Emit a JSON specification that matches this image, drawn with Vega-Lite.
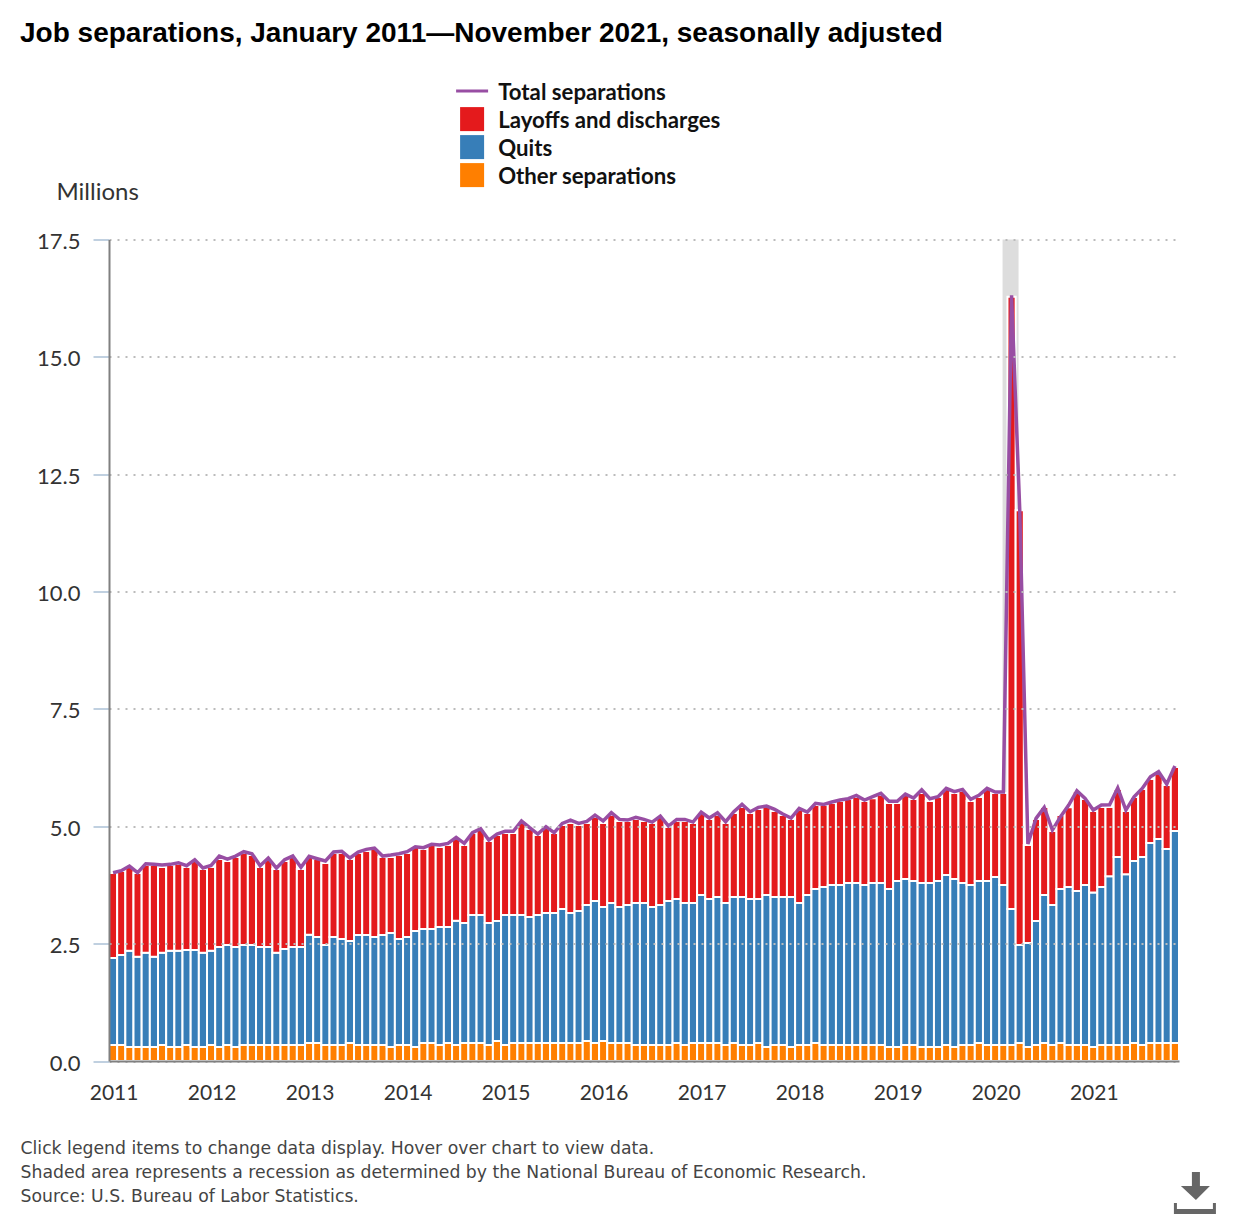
{
  "$schema": "https://vega.github.io/schema/vega-lite/v6.json",
  "autosize": {"type": "none"},
  "padding": {"left": 109, "top": 239.5, "right": 61, "bottom": 158.5},
  "width": 1070,
  "height": 821.5,
  "background": "white",
  "title": {
    "text": "Job separations, January 2011—November 2021, seasonally adjusted",
    "anchor": "start",
    "frame": "group",
    "dx": -89,
    "offset": 18,
    "baseline": "middle",
    "font": "Liberation Sans",
    "fontSize": 28,
    "fontWeight": "bold",
    "color": "#000000"
  },
  "config": {"view": {"stroke": null}},
  "data": {
    "values": [
      {"month":"2011-01","Other separations":0.341,"Quits":1.853,"Layoffs and discharges":1.811,"Total separations":4.011},
      {"month":"2011-02","Other separations":0.341,"Quits":1.917,"Layoffs and discharges":1.789,"Total separations":4.054},
      {"month":"2011-03","Other separations":0.298,"Quits":2.052,"Layoffs and discharges":1.782,"Total separations":4.153},
      {"month":"2011-04","Other separations":0.298,"Quits":1.924,"Layoffs and discharges":1.782,"Total separations":4.011},
      {"month":"2011-05","Other separations":0.298,"Quits":2.009,"Layoffs and discharges":1.867,"Total separations":4.203},
      {"month":"2011-06","Other separations":0.298,"Quits":1.924,"Layoffs and discharges":1.953,"Total separations":4.189},
      {"month":"2011-07","Other separations":0.341,"Quits":1.967,"Layoffs and discharges":1.825,"Total separations":4.174},
      {"month":"2011-08","Other separations":0.298,"Quits":2.052,"Layoffs and discharges":1.825,"Total separations":4.189},
      {"month":"2011-09","Other separations":0.298,"Quits":2.052,"Layoffs and discharges":1.846,"Total separations":4.224},
      {"month":"2011-10","Other separations":0.341,"Quits":2.024,"Layoffs and discharges":1.768,"Total separations":4.160},
      {"month":"2011-11","Other separations":0.298,"Quits":2.066,"Layoffs and discharges":1.896,"Total separations":4.288},
      {"month":"2011-12","Other separations":0.298,"Quits":2.009,"Layoffs and discharges":1.782,"Total separations":4.111},
      {"month":"2012-01","Other separations":0.341,"Quits":2.009,"Layoffs and discharges":1.782,"Total separations":4.167},
      {"month":"2012-02","Other separations":0.298,"Quits":2.130,"Layoffs and discharges":1.874,"Total separations":4.366},
      {"month":"2012-03","Other separations":0.341,"Quits":2.130,"Layoffs and discharges":1.789,"Total separations":4.302},
      {"month":"2012-04","Other separations":0.298,"Quits":2.130,"Layoffs and discharges":1.917,"Total separations":4.366},
      {"month":"2012-05","Other separations":0.341,"Quits":2.130,"Layoffs and discharges":1.960,"Total separations":4.458},
      {"month":"2012-06","Other separations":0.341,"Quits":2.130,"Layoffs and discharges":1.917,"Total separations":4.416},
      {"month":"2012-07","Other separations":0.341,"Quits":2.087,"Layoffs and discharges":1.704,"Total separations":4.160},
      {"month":"2012-08","Other separations":0.341,"Quits":2.087,"Layoffs and discharges":1.874,"Total separations":4.324},
      {"month":"2012-09","Other separations":0.341,"Quits":1.967,"Layoffs and discharges":1.782,"Total separations":4.111},
      {"month":"2012-10","Other separations":0.341,"Quits":2.045,"Layoffs and discharges":1.874,"Total separations":4.288},
      {"month":"2012-11","Other separations":0.341,"Quits":2.087,"Layoffs and discharges":1.917,"Total separations":4.366},
      {"month":"2012-12","Other separations":0.341,"Quits":2.087,"Layoffs and discharges":1.661,"Total separations":4.125},
      {"month":"2013-01","Other separations":0.383,"Quits":2.308,"Layoffs and discharges":1.654,"Total separations":4.359},
      {"month":"2013-02","Other separations":0.383,"Quits":2.258,"Layoffs and discharges":1.661,"Total separations":4.309},
      {"month":"2013-03","Other separations":0.341,"Quits":2.130,"Layoffs and discharges":1.747,"Total separations":4.260},
      {"month":"2013-04","Other separations":0.341,"Quits":2.300,"Layoffs and discharges":1.789,"Total separations":4.451},
      {"month":"2013-05","Other separations":0.341,"Quits":2.258,"Layoffs and discharges":1.832,"Total separations":4.466},
      {"month":"2013-06","Other separations":0.383,"Quits":2.173,"Layoffs and discharges":1.747,"Total separations":4.324},
      {"month":"2013-07","Other separations":0.341,"Quits":2.343,"Layoffs and discharges":1.747,"Total separations":4.451},
      {"month":"2013-08","Other separations":0.341,"Quits":2.343,"Layoffs and discharges":1.789,"Total separations":4.508},
      {"month":"2013-09","Other separations":0.341,"Quits":2.300,"Layoffs and discharges":1.874,"Total separations":4.537},
      {"month":"2013-10","Other separations":0.341,"Quits":2.343,"Layoffs and discharges":1.661,"Total separations":4.366},
      {"month":"2013-11","Other separations":0.298,"Quits":2.428,"Layoffs and discharges":1.619,"Total separations":4.387},
      {"month":"2013-12","Other separations":0.341,"Quits":2.258,"Layoffs and discharges":1.789,"Total separations":4.416},
      {"month":"2014-01","Other separations":0.341,"Quits":2.300,"Layoffs and discharges":1.789,"Total separations":4.458},
      {"month":"2014-02","Other separations":0.298,"Quits":2.471,"Layoffs and discharges":1.789,"Total separations":4.565},
      {"month":"2014-03","Other separations":0.383,"Quits":2.428,"Layoffs and discharges":1.704,"Total separations":4.544},
      {"month":"2014-04","Other separations":0.383,"Quits":2.428,"Layoffs and discharges":1.789,"Total separations":4.615},
      {"month":"2014-05","Other separations":0.341,"Quits":2.513,"Layoffs and discharges":1.704,"Total separations":4.600},
      {"month":"2014-06","Other separations":0.383,"Quits":2.471,"Layoffs and discharges":1.747,"Total separations":4.636},
      {"month":"2014-07","Other separations":0.341,"Quits":2.648,"Layoffs and discharges":1.740,"Total separations":4.764},
      {"month":"2014-08","Other separations":0.383,"Quits":2.556,"Layoffs and discharges":1.661,"Total separations":4.636},
      {"month":"2014-09","Other separations":0.383,"Quits":2.726,"Layoffs and discharges":1.747,"Total separations":4.863},
      {"month":"2014-10","Other separations":0.383,"Quits":2.726,"Layoffs and discharges":1.832,"Total separations":4.948},
      {"month":"2014-11","Other separations":0.341,"Quits":2.599,"Layoffs and discharges":1.747,"Total separations":4.707},
      {"month":"2014-12","Other separations":0.426,"Quits":2.556,"Layoffs and discharges":1.832,"Total separations":4.835},
      {"month":"2015-01","Other separations":0.341,"Quits":2.769,"Layoffs and discharges":1.747,"Total separations":4.892},
      {"month":"2015-02","Other separations":0.383,"Quits":2.726,"Layoffs and discharges":1.747,"Total separations":4.892},
      {"month":"2015-03","Other separations":0.383,"Quits":2.726,"Layoffs and discharges":1.960,"Total separations":5.112},
      {"month":"2015-04","Other separations":0.383,"Quits":2.684,"Layoffs and discharges":1.874,"Total separations":4.970},
      {"month":"2015-05","Other separations":0.383,"Quits":2.726,"Layoffs and discharges":1.704,"Total separations":4.835},
      {"month":"2015-06","Other separations":0.383,"Quits":2.769,"Layoffs and discharges":1.811,"Total separations":4.991},
      {"month":"2015-07","Other separations":0.383,"Quits":2.769,"Layoffs and discharges":1.704,"Total separations":4.863},
      {"month":"2015-08","Other separations":0.383,"Quits":2.854,"Layoffs and discharges":1.789,"Total separations":5.062},
      {"month":"2015-09","Other separations":0.383,"Quits":2.769,"Layoffs and discharges":1.917,"Total separations":5.133},
      {"month":"2015-10","Other separations":0.383,"Quits":2.812,"Layoffs and discharges":1.832,"Total separations":5.062},
      {"month":"2015-11","Other separations":0.426,"Quits":2.897,"Layoffs and discharges":1.747,"Total separations":5.105},
      {"month":"2015-12","Other separations":0.383,"Quits":3.025,"Layoffs and discharges":1.789,"Total separations":5.239},
      {"month":"2016-01","Other separations":0.426,"Quits":2.854,"Layoffs and discharges":1.789,"Total separations":5.112},
      {"month":"2016-02","Other separations":0.383,"Quits":2.982,"Layoffs and discharges":1.874,"Total separations":5.289},
      {"month":"2016-03","Other separations":0.383,"Quits":2.897,"Layoffs and discharges":1.832,"Total separations":5.147},
      {"month":"2016-04","Other separations":0.383,"Quits":2.939,"Layoffs and discharges":1.789,"Total separations":5.133},
      {"month":"2016-05","Other separations":0.341,"Quits":3.025,"Layoffs and discharges":1.789,"Total separations":5.190},
      {"month":"2016-06","Other separations":0.341,"Quits":3.025,"Layoffs and discharges":1.747,"Total separations":5.147},
      {"month":"2016-07","Other separations":0.341,"Quits":2.939,"Layoffs and discharges":1.789,"Total separations":5.090},
      {"month":"2016-08","Other separations":0.341,"Quits":2.982,"Layoffs and discharges":1.874,"Total separations":5.218},
      {"month":"2016-09","Other separations":0.341,"Quits":3.067,"Layoffs and discharges":1.576,"Total separations":5.005},
      {"month":"2016-10","Other separations":0.383,"Quits":3.067,"Layoffs and discharges":1.661,"Total separations":5.147},
      {"month":"2016-11","Other separations":0.341,"Quits":3.025,"Layoffs and discharges":1.747,"Total separations":5.147},
      {"month":"2016-12","Other separations":0.383,"Quits":2.982,"Layoffs and discharges":1.704,"Total separations":5.090},
      {"month":"2017-01","Other separations":0.383,"Quits":3.152,"Layoffs and discharges":1.747,"Total separations":5.303},
      {"month":"2017-02","Other separations":0.383,"Quits":3.067,"Layoffs and discharges":1.704,"Total separations":5.176},
      {"month":"2017-03","Other separations":0.383,"Quits":3.110,"Layoffs and discharges":1.747,"Total separations":5.289},
      {"month":"2017-04","Other separations":0.341,"Quits":3.025,"Layoffs and discharges":1.704,"Total separations":5.097},
      {"month":"2017-05","Other separations":0.383,"Quits":3.110,"Layoffs and discharges":1.789,"Total separations":5.310},
      {"month":"2017-06","Other separations":0.341,"Quits":3.152,"Layoffs and discharges":1.917,"Total separations":5.467},
      {"month":"2017-07","Other separations":0.341,"Quits":3.110,"Layoffs and discharges":1.832,"Total separations":5.310},
      {"month":"2017-08","Other separations":0.383,"Quits":3.067,"Layoffs and discharges":1.917,"Total separations":5.403},
      {"month":"2017-09","Other separations":0.298,"Quits":3.238,"Layoffs and discharges":1.874,"Total separations":5.431},
      {"month":"2017-10","Other separations":0.341,"Quits":3.152,"Layoffs and discharges":1.832,"Total separations":5.360},
      {"month":"2017-11","Other separations":0.341,"Quits":3.152,"Layoffs and discharges":1.747,"Total separations":5.261},
      {"month":"2017-12","Other separations":0.298,"Quits":3.195,"Layoffs and discharges":1.661,"Total separations":5.176},
      {"month":"2018-01","Other separations":0.341,"Quits":3.025,"Layoffs and discharges":1.988,"Total separations":5.381},
      {"month":"2018-02","Other separations":0.341,"Quits":3.195,"Layoffs and discharges":1.747,"Total separations":5.303},
      {"month":"2018-03","Other separations":0.383,"Quits":3.280,"Layoffs and discharges":1.789,"Total separations":5.488},
      {"month":"2018-04","Other separations":0.341,"Quits":3.365,"Layoffs and discharges":1.747,"Total separations":5.467},
      {"month":"2018-05","Other separations":0.341,"Quits":3.408,"Layoffs and discharges":1.747,"Total separations":5.516},
      {"month":"2018-06","Other separations":0.341,"Quits":3.408,"Layoffs and discharges":1.789,"Total separations":5.559},
      {"month":"2018-07","Other separations":0.341,"Quits":3.451,"Layoffs and discharges":1.789,"Total separations":5.587},
      {"month":"2018-08","Other separations":0.341,"Quits":3.451,"Layoffs and discharges":1.832,"Total separations":5.658},
      {"month":"2018-09","Other separations":0.341,"Quits":3.408,"Layoffs and discharges":1.789,"Total separations":5.559},
      {"month":"2018-10","Other separations":0.341,"Quits":3.451,"Layoffs and discharges":1.803,"Total separations":5.630},
      {"month":"2018-11","Other separations":0.341,"Quits":3.451,"Layoffs and discharges":1.874,"Total separations":5.701},
      {"month":"2018-12","Other separations":0.298,"Quits":3.365,"Layoffs and discharges":1.832,"Total separations":5.531},
      {"month":"2019-01","Other separations":0.298,"Quits":3.536,"Layoffs and discharges":1.661,"Total separations":5.531},
      {"month":"2019-02","Other separations":0.341,"Quits":3.536,"Layoffs and discharges":1.789,"Total separations":5.687},
      {"month":"2019-03","Other separations":0.341,"Quits":3.493,"Layoffs and discharges":1.747,"Total separations":5.602},
      {"month":"2019-04","Other separations":0.298,"Quits":3.493,"Layoffs and discharges":1.917,"Total separations":5.779},
      {"month":"2019-05","Other separations":0.298,"Quits":3.493,"Layoffs and discharges":1.747,"Total separations":5.587},
      {"month":"2019-06","Other separations":0.298,"Quits":3.536,"Layoffs and discharges":1.789,"Total separations":5.630},
      {"month":"2019-07","Other separations":0.341,"Quits":3.621,"Layoffs and discharges":1.832,"Total separations":5.807},
      {"month":"2019-08","Other separations":0.298,"Quits":3.578,"Layoffs and discharges":1.832,"Total separations":5.736},
      {"month":"2019-09","Other separations":0.341,"Quits":3.451,"Layoffs and discharges":1.960,"Total separations":5.786},
      {"month":"2019-10","Other separations":0.341,"Quits":3.408,"Layoffs and discharges":1.789,"Total separations":5.573},
      {"month":"2019-11","Other separations":0.383,"Quits":3.451,"Layoffs and discharges":1.789,"Total separations":5.658},
      {"month":"2019-12","Other separations":0.341,"Quits":3.493,"Layoffs and discharges":1.960,"Total separations":5.807},
      {"month":"2020-01","Other separations":0.341,"Quits":3.578,"Layoffs and discharges":1.789,"Total separations":5.729},
      {"month":"2020-02","Other separations":0.341,"Quits":3.408,"Layoffs and discharges":1.960,"Total separations":5.729},
      {"month":"2020-03","Other separations":0.341,"Quits":2.897,"Layoffs and discharges":13.04,"Total separations":16.31},
      {"month":"2020-04","Other separations":0.383,"Quits":2.087,"Layoffs and discharges":9.26,"Total separations":11.75},
      {"month":"2020-05","Other separations":0.298,"Quits":2.215,"Layoffs and discharges":2.087,"Total separations":4.622},
      {"month":"2020-06","Other separations":0.341,"Quits":2.641,"Layoffs and discharges":2.173,"Total separations":5.168},
      {"month":"2020-07","Other separations":0.383,"Quits":3.152,"Layoffs and discharges":1.874,"Total separations":5.403},
      {"month":"2020-08","Other separations":0.341,"Quits":2.982,"Layoffs and discharges":1.576,"Total separations":4.920},
      {"month":"2020-09","Other separations":0.383,"Quits":3.280,"Layoffs and discharges":1.576,"Total separations":5.204},
      {"month":"2020-10","Other separations":0.341,"Quits":3.365,"Layoffs and discharges":1.697,"Total separations":5.453},
      {"month":"2020-11","Other separations":0.341,"Quits":3.280,"Layoffs and discharges":2.130,"Total separations":5.758},
      {"month":"2020-12","Other separations":0.341,"Quits":3.408,"Layoffs and discharges":1.832,"Total separations":5.595},
      {"month":"2021-01","Other separations":0.298,"Quits":3.294,"Layoffs and discharges":1.732,"Total separations":5.346},
      {"month":"2021-02","Other separations":0.341,"Quits":3.365,"Layoffs and discharges":1.704,"Total separations":5.453},
      {"month":"2021-03","Other separations":0.341,"Quits":3.593,"Layoffs and discharges":1.477,"Total separations":5.460},
      {"month":"2021-04","Other separations":0.341,"Quits":4.004,"Layoffs and discharges":1.448,"Total separations":5.815},
      {"month":"2021-05","Other separations":0.341,"Quits":3.635,"Layoffs and discharges":1.349,"Total separations":5.346},
      {"month":"2021-06","Other separations":0.383,"Quits":3.877,"Layoffs and discharges":1.363,"Total separations":5.630},
      {"month":"2021-07","Other separations":0.341,"Quits":4.004,"Layoffs and discharges":1.448,"Total separations":5.807},
      {"month":"2021-08","Other separations":0.383,"Quits":4.260,"Layoffs and discharges":1.363,"Total separations":6.056},
      {"month":"2021-09","Other separations":0.383,"Quits":4.345,"Layoffs and discharges":1.406,"Total separations":6.162},
      {"month":"2021-10","Other separations":0.383,"Quits":4.132,"Layoffs and discharges":1.363,"Total separations":5.900},
      {"month":"2021-11","Other separations":0.383,"Quits":4.516,"Layoffs and discharges":1.363,"Total separations":6.283}
    ]
  },
  "encoding": {
    "x": {
      "field": "month",
      "type": "ordinal",
      "scale": {"paddingInner": 0, "paddingOuter": 0},
      "axis": {
        "values": ["2011-01","2012-01","2013-01","2014-01","2015-01","2016-01","2017-01","2018-01","2019-01","2020-01","2021-01"],
        "labelExpr": "slice(datum.value, 0, 4)",
        "labelAngle": 0,
        "labelOffset": 1,
        "labelFont": "Lato",
        "labelFontSize": 21,
        "labelColor": "#333333",
        "labelPadding": 21,
        "ticks": false,
        "domainColor": "#808080",
        "domainWidth": 2,
        "grid": false,
        "zindex": 1,
        "title": [
          "Click legend items to change data display. Hover over chart to view data.",
          "Shaded area represents a recession as determined by the National Bureau of Economic Research.",
          "Source: U.S. Bureau of Labor Statistics."
        ],
        "titleFont": "DejaVu Sans",
        "titleFontSize": 17.25,
        "titleFontWeight": "normal",
        "titleColor": "#444444",
        "titleAlign": "left",
        "titleAnchor": "start",
        "titleBaseline": "top",
        "titleLineHeight": 24,
        "titleX": -89,
        "titleY": 78
      }
    }
  },
  "layer": [
    {
      "data": {"values": [{"month": "2020-03", "recession": 17.5}]},
      "mark": {"type": "bar", "width": 16, "xOffset": -1, "color": "#dddddd"},
      "encoding": {
        "y": {
          "field": "recession",
          "type": "quantitative",
          "title": "Millions",
          "scale": {"domain": [0, 17.5], "nice": false},
          "axis": {
            "values": [0, 2.5, 5, 7.5, 10, 12.5, 15, 17.5],
            "format": ".1f",
            "labelFont": "Lato",
            "labelFontSize": 22,
            "labelColor": "#333333",
            "labelPadding": 13,
            "labelOffset": 2,
            "tickSize": 16,
            "tickColor": "#c0d0e0",
            "tickWidth": 2,
            "domainColor": "#808080",
            "domainWidth": 2,
            "zindex": 1,
            "grid": true,
            "gridColor": "#bbbbbb",
            "gridWidth": 2,
            "gridDash": [2, 6],
            "titleFont": "Lato",
            "titleFontSize": 24,
            "titleFontWeight": "normal",
            "titleColor": "#333333",
            "titleAngle": 0,
            "titleAlign": "left",
            "titleBaseline": "middle",
            "titleX": -53,
            "titleY": -47.5
          }
        }
      }
    },
    {
      "transform": [
        {"fold": ["Other separations", "Quits", "Layoffs and discharges"], "as": ["series", "value"]},
        {
          "lookup": "series",
          "from": {
            "data": {
              "values": [
                {"series": "Other separations", "rank": 1},
                {"series": "Quits", "rank": 2},
                {"series": "Layoffs and discharges", "rank": 3}
              ]
            },
            "key": "series",
            "fields": ["rank"]
          }
        }
      ],
      "mark": {"type": "bar", "stroke": "white", "strokeWidth": 2},
      "encoding": {
        "y": {
          "field": "value",
          "type": "quantitative",
          "stack": "zero",
          "scale": {"domain": [0, 17.5], "nice": false},
          "title": "Millions"
        },
        "order": {"field": "rank", "type": "quantitative"},
        "color": {
          "field": "series",
          "type": "nominal",
          "scale": {
            "domain": ["Total separations", "Layoffs and discharges", "Quits", "Other separations"],
            "range": ["#984ea3", "#e41a1c", "#377eb8", "#ff7f00"]
          },
          "legend": {
            "title": null,
            "orient": "none",
            "legendX": 352,
            "legendY": -159.5,
            "symbolType": "square",
            "symbolSize": 576,
            "symbolStrokeWidth": 0,
            "rowPadding": 2,
            "labelOffset": 15,
            "labelFont": "Lato",
            "labelFontSize": 22.2,
            "labelFontWeight": "bold",
            "labelColor": "#111111",
            "labelLimit": 400,
            "encoding": {
              "labels": {"dy": {"value": 2}},
              "symbols": {
                "shape": {"value": {"signal": "datum.value === 'Total separations' ? 'stroke' : 'square'"}},
                "size": {"value": {"signal": "datum.value === 'Total separations' ? 1024 : 576"}},
                "strokeWidth": {"value": {"signal": "datum.value === 'Total separations' ? 3 : 0"}},
                "stroke": {"value": {"signal": "datum.value === 'Total separations' ? '#984ea3' : 'transparent'"}}
              }
            }
          }
        }
      }
    },
    {
      "mark": {"type": "line", "color": "#984ea3", "strokeWidth": 3.5},
      "encoding": {
        "y": {
          "field": "Total separations",
          "type": "quantitative",
          "title": "Millions",
          "scale": {"domain": [0, 17.5], "nice": false}
        }
      }
    },
    {
      "data": {"values": [{"month": "2021-11", "icon": -2.854}]},
      "mark": {
        "type": "point",
        "shape": "M-3,-23H5V-9H15L1,5L-14,-9H-3ZM-21,8H-18V14H18V8H21V19H-21Z",
        "size": 4,
        "filled": true,
        "color": "#666666",
        "opacity": 1,
        "xOffset": 20
      },
      "encoding": {
        "y": {
          "field": "icon",
          "type": "quantitative",
          "title": "Millions",
          "scale": {"domain": [0, 17.5], "nice": false}
        }
      }
    }
  ]
}
